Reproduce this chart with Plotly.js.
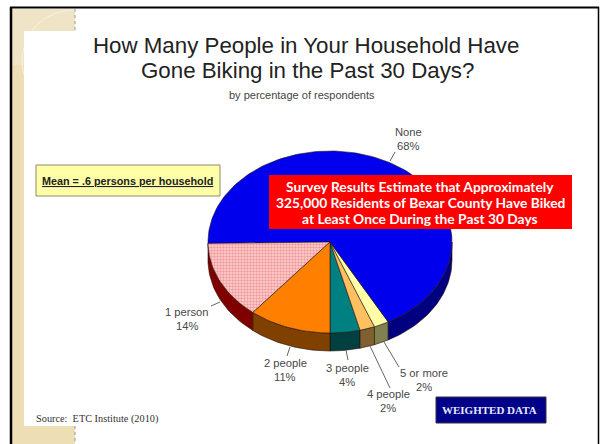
<!DOCTYPE html>
<html>
<head>
<meta charset="utf-8">
<script src="https://cdn.plot.ly/plotly-3.0.1.min.js"></script>
<style>html,body{margin:0;padding:0;background:#fff}#c{width:600px;height:444px}</style>
</head>
<body>
<div id="c"></div>
<script>
const categories = ["None", "1 person", "2 people", "3 people", "4 people", "5 or more"];
const percents = [68, 14, 11, 4, 2, 2];
const titleLines = ["How Many People in Your Household Have", "Gone Biking in the Past 30 Days?"];
const subtitle = "by percentage of respondents";
const meanNote = "Mean = .6 persons per household";
const estimateLines = ["Survey Results Estimate that Approximately", "325,000 Residents of Bexar County Have Biked", "at Least Once During the Past 30 Days"];
const weightedNote = "WEIGHTED DATA";
const sourceNote = "Source:  ETC Institute (2010)";

const topColors = ["#0000ec", "#ffc8c8", "#ff8000", "#008080", "#ffc060", "#ffffa8"];
const sideColors = ["#000080", "#800000", "#804000", "#004040", "#806030", "#808050"];
const labelPos = [[408, 139], [187, 319], [285, 370], [347, 375], [388, 401], [424, 380]];
const leaders = [[395, 152, 390, 161], [220, 302, 211, 306], [290, 347, 287, 356], [346, 350, 348, 360], [370, 346, 390, 388], [384, 342, 399, 367]];

const CX = 330, CY = 242, RX = 122, RY = 91, DEPTH = 18;
const px = a => CX + RX * Math.sin(a * Math.PI / 180);
const py = a => CY + RY * Math.cos(a * Math.PI / 180);
const total = percents.reduce((s, v) => s + v, 0);

// Slice order round the pie, counter-clockwise on screen, starting at the front
const drawOrder = [3, 4, 5, 0, 1, 2];
let angle = 0;
const spans = {};
drawOrder.forEach(i => {
  const sweep = percents[i] / total * 360;
  spans[i] = [angle, angle + sweep];
  angle += sweep;
});

function arc(a0, a1) {
  const n = Math.max(2, Math.ceil(Math.abs(a1 - a0) / 1.5));
  const out = [];
  for (let k = 0; k <= n; k++) out.push(a0 + (a1 - a0) * k / n);
  return out;
}

const traces = [];
// side walls (only the part facing the viewer)
drawOrder.forEach(i => {
  let [a0, a1] = spans[i];
  if (a0 >= 180) { a0 -= 360; a1 -= 360; }
  const v0 = Math.max(a0, -90), v1 = Math.min(a1, 90);
  if (v1 <= v0) return;
  const t = arc(v0, v1), b = t.slice().reverse();
  traces.push({
    type: "scatter", mode: "lines", fill: "toself", fillcolor: sideColors[i],
    line: { color: "#201000", width: 0.6 }, hoverinfo: "skip", showlegend: false,
    x: t.map(px).concat(b.map(px), [px(t[0])]),
    y: t.map(py).concat(b.map(a => py(a) + DEPTH), [py(t[0])])
  });
});
// top faces
drawOrder.forEach(i => {
  const t = arc(spans[i][0], spans[i][1]);
  const tr = {
    type: "scatter", mode: "lines", fill: "toself", fillcolor: topColors[i],
    line: { color: "#201010", width: 0.6 }, hoverinfo: "skip", showlegend: false,
    name: categories[i],
    x: [CX].concat(t.map(px), [CX]),
    y: [CY].concat(t.map(py), [CY])
  };
  if (categories[i] === "1 person") {
    tr.fillpattern = { shape: ".", bgcolor: "#ffd4d4", fgcolor: "#f09a9a", size: 3, solidity: 0.5 };
  }
  traces.push(tr);
});
// leader lines
leaders.forEach(l => traces.push({
  type: "scatter", mode: "lines", x: [l[0], l[2]], y: [l[1], l[3]],
  line: { color: "#666", width: 1 }, hoverinfo: "skip", showlegend: false
}));

const T = (x, y, text, size, color, family, extra) => Object.assign({
  xref: "x", yref: "y", x, y, text, showarrow: false,
  font: { size, color, family }, xanchor: "center", yanchor: "middle", align: "center"
}, extra || {});

const annotations = [
  T(306, 45, titleLines[0], 22.3, "#222", "Liberation Sans"),
  T(307, 70, titleLines[1], 22.3, "#222", "Liberation Sans"),
  T(302, 95, subtitle, 11, "#444", "Liberation Sans"),
  T(127, 181, meanNote, 10.8, "#222", "Liberation Sans", { font: { size: 10.8, color: "#222", family: "Liberation Sans", weight: 700, lineposition: "under" } }),
  T(489, 410, weightedNote, 11, "#e8e8ff", "Liberation Serif", { font: { size: 11, color: "#e8e8ff", family: "Liberation Serif", weight: 700 } }),
  T(34, 419, sourceNote, 10.3, "#333", "Liberation Serif", { xanchor: "left" })
];
estimateLines.forEach((s, i) => annotations.push(
  T(420, 186 + i * 16, s, 13.8, "#fff", "Lato", { font: { size: 13.8, color: "#fff", family: "Lato", weight: 700 } })
));
categories.forEach((c, i) => {
  annotations.push(T(labelPos[i][0], labelPos[i][1] - 7, c, 11.2, "#484848", "Liberation Sans"));
  annotations.push(T(labelPos[i][0], labelPos[i][1] + 7, percents[i] + "%", 11.2, "#484848", "Liberation Sans"));
});

const R = (x0, y0, x1, y1, fill, lineColor, layer, w) => ({
  type: "rect", xref: "x", yref: "y", x0, y0, x1, y1, fillcolor: fill, layer: layer || "below",
  line: { color: lineColor || "rgba(0,0,0,0)", width: lineColor ? (w || 1) : 0 }
});
const shapes = [
  R(12, 9, 598, 444, "#ffffff"),
  R(12, 9, 75, 65, "#efe4c6"),
  R(12, 65, 24, 426, "#eddeb6"),
  R(12, 426, 75, 444, "#eddeb6"),
  { type: "circle", xref: "x", yref: "y", x0: 22, y0: 10, x1: 124, y1: 112, layer: "below", line: { color: "#f8f2e0", width: 1 } },
  R(24, 31, 598, 426, "#ffffff"),
  R(75, 9, 598, 31, "#ffffff"),
  R(75, 426, 598, 444, "#ffffff"),
  { type: "line", xref: "x", yref: "y", x0: 75, x1: 75, y0: 9, y1: 31, layer: "below", line: { color: "#999", width: 1, dash: "dot" } },
  { type: "line", xref: "x", yref: "y", x0: 75, x1: 75, y0: 426, y1: 444, layer: "below", line: { color: "#999", width: 1, dash: "dot" } },
  { type: "line", xref: "x", yref: "y", x0: 11, x1: 11, y0: 7, y1: 444, layer: "below", line: { color: "#000", width: 2.5 } },
  { type: "line", xref: "x", yref: "y", x0: 10, x1: 599, y0: 7.5, y1: 7.5, layer: "below", line: { color: "#000", width: 2 } },
  { type: "line", xref: "x", yref: "y", x0: 598.5, x1: 598.5, y0: 7, y1: 444, layer: "below", line: { color: "#000", width: 1.5 } },
  R(36, 165, 220, 196, "#ffffa8", "#8a8a70", "above"),
  R(269, 175, 572, 229, "#ff0000", null, "above"),
  R(436, 397, 546, 423, "#000088", "#334", "above")
];

const hidden = { visible: false, fixedrange: true };
Plotly.newPlot("c", traces, {
  width: 600, height: 444,
  margin: { l: 0, r: 0, t: 0, b: 0 },
  paper_bgcolor: "#fff", plot_bgcolor: "#fff",
  xaxis: Object.assign({ range: [0, 600] }, hidden),
  yaxis: Object.assign({ range: [444, 0] }, hidden),
  showlegend: false, shapes, annotations
}, { displayModeBar: false, staticPlot: true });
</script>
</body>
</html>
